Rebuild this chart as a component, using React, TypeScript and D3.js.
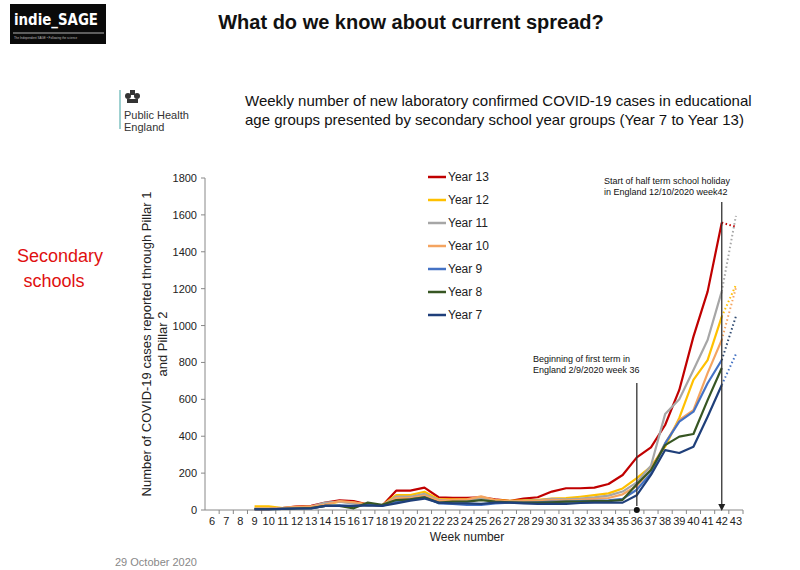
import React from "react";
import * as d3 from "d3";

const weeks = d3.range(6, 44).map(String);
const dataWeeks = d3.range(9, 43);
const yTicks = [0, 200, 400, 600, 800, 1000, 1200, 1400, 1600, 1800];

const seriesNames = ["Year 13", "Year 12", "Year 11", "Year 10", "Year 9", "Year 8", "Year 7"];
const seriesColors = ["#C00000", "#FFC000", "#A6A6A6", "#F4A460", "#4472C4", "#375623", "#1F3F7A"];

const year13 = [5, 5, 10, 20, 22, 40, 52, 48, 30, 22, 105, 105, 121, 69, 66, 66, 69, 58, 49, 62, 69, 100, 118, 118, 121, 141, 190, 285, 340, 461, 651, 940, 1184, 1558];
const year12 = [20, 20, 10, 15, 18, 30, 45, 40, 30, 25, 81, 81, 99, 58, 58, 58, 66, 54, 49, 52, 55, 62, 64, 72, 81, 90, 117, 173, 235, 343, 499, 705, 813, 1048];
const year11 = [8, 8, 10, 15, 18, 40, 45, 35, 25, 25, 72, 72, 87, 54, 54, 54, 60, 50, 45, 50, 52, 60, 58, 62, 68, 78, 100, 150, 240, 520, 600, 759, 922, 1185];
const year10 = [8, 8, 12, 18, 20, 30, 48, 42, 30, 25, 65, 65, 78, 50, 55, 58, 74, 54, 45, 48, 50, 55, 52, 55, 60, 65, 85, 130, 220, 361, 488, 542, 742, 922];
const year9 = [5, 5, 6, 8, 10, 22, 25, 20, 30, 22, 45, 58, 69, 36, 33, 27, 27, 36, 40, 40, 42, 45, 45, 48, 50, 52, 60, 110, 200, 361, 479, 533, 687, 813];
const year8 = [4, 4, 6, 8, 10, 22, 22, 9, 40, 28, 54, 58, 69, 40, 45, 45, 54, 45, 42, 40, 40, 42, 45, 45, 48, 48, 55, 140, 217, 352, 398, 412, 596, 770];
const year7 = [4, 4, 6, 8, 8, 22, 23, 22, 25, 22, 36, 51, 62, 40, 36, 36, 33, 40, 40, 36, 33, 33, 33, 38, 40, 40, 40, 80, 190, 325, 309, 343, 506, 678];
const seriesValues = [year13, year12, year11, year10, year9, year8, year7];

// projected (dotted) values for week 43, starting from week 42 value
const projSeries = ["Year 13", "Year 12", "Year 11", "Year 10", "Year 9", "Year 7"];
const projWeek43 = [1535, 1220, 1595, 1205, 1050, 845];
const projColors = ["#C00000", "#FFC000", "#A6A6A6", "#F4A460", "#2F4A70", "#4472C4"];

const annotations = [
  { week: "36", lines: ["Beginning of first term in", "England 2/9/2020  week 36"], top: 383, tx: 533, ty: 362, end: "dot" },
  { week: "42", lines: ["Start of half term school holiday", "in England 12/10/2020 week42"], top: 202, tx: 604, ty: 184, end: "arrow" },
];

export default function App() {
  const W = 800, H = 570;
  const x = d3.scaleBand<string>().domain(weeks).range([205, 743]).padding(0);
  const bw = x.bandwidth();
  const cx = (w: string | number) => (x(String(w)) as number) + bw / 2;
  const y = d3.scaleLinear().domain([0, 1800]).range([510, 178]);
  const line = d3.line<[number, number]>().x((d) => cx(d[0])).y((d) => y(d[1]));
  const font = "'Liberation Sans', Arial, sans-serif";

  return (
    <svg width={W} height={H} style={{ position: "absolute", left: 0, top: 0, background: "#fff" }} fontFamily={font}>
      <rect width={W} height={H} fill="#fff" />
      {/* indie_SAGE logo */}
      <rect x={10} y={4} width={96} height={40} fill="#0a0a0a" />
      <text x={14} y={25} fill="#fff" fontSize={16} fontWeight="bold" fontFamily="'DejaVu Sans', sans-serif" textLength={84} lengthAdjust="spacingAndGlyphs">indie_SAGE</text>
      <line x1={13} x2={104} y1={33} y2={33} stroke="#ddd" strokeWidth={0.8} />
      <text x={14} y={39} fill="#bbb" fontSize={3}>The Independent SAGE • Following the science</text>

      <text x={411} y={29} textAnchor="middle" fontSize={20} fontWeight="bold" fill="#111">What do we know about current spread?</text>

      {/* PHE logo */}
      <line x1={120} x2={120} y1={90} y2={129} stroke="#5fb3b3" strokeWidth={1.2} />
      <g fill="#333">
        <circle cx={128} cy={96} r={3} />
        <circle cx={137} cy={96} r={3} />
        <rect x={130} y={90} width={5} height={5} />
        <rect x={127} y={99} width={11} height={4} />
      </g>
      <text x={124} y={119} fontSize={11} fill="#333">Public Health</text>
      <text x={124} y={131} fontSize={11} fill="#333">England</text>

      <text x={245} y={106} fontSize={15} fill="#111">Weekly number of new laboratory confirmed COVID-19 cases in educational</text>
      <text x={245} y={125} fontSize={15} fill="#111">age groups presented by secondary school year groups (Year 7 to Year 13)</text>

      <text x={60} y={262} textAnchor="middle" fontSize={18} fill="#e01010">Secondary</text>
      <text x={54} y={287} textAnchor="middle" fontSize={18} fill="#e01010">schools</text>

      {/* Y axis label */}
      <g transform="translate(151,344) rotate(-90)">
        <text x={0} y={0} textAnchor="middle" fontSize={13} fill="#222">Number of COVID-19 cases reported through Pillar 1</text>
        <text x={0} y={16} textAnchor="middle" fontSize={13} fill="#222">and Pillar 2</text>
      </g>

      {/* Axes */}
      <line x1={205} x2={205} y1={y(1800)} y2={y(0)} stroke="#888" strokeWidth={1} />
      {yTicks.map((t) => (
        <g key={t}>
          <line x1={201} x2={205} y1={y(t)} y2={y(t)} stroke="#888" />
          <text x={197} y={y(t) + 4} textAnchor="end" fontSize={11} fill="#222">{t}</text>
        </g>
      ))}
      <line x1={205} x2={743} y1={y(0)} y2={y(0)} stroke="#888" strokeWidth={1} />
      {weeks.map((w) => (
        <g key={w}>
          <line x1={(x(w) as number) + bw} x2={(x(w) as number) + bw} y1={y(0)} y2={y(0) + 4} stroke="#888" />
          <text x={cx(w)} y={525} textAnchor="middle" fontSize={11} fill="#222">{w}</text>
        </g>
      ))}
      <text x={467} y={541} textAnchor="middle" fontSize={12} fill="#222">Week number</text>

      {/* Series lines */}
      {seriesValues.map((vals, i) => (
        <path key={seriesNames[i]} d={line(vals.map((v, j) => [dataWeeks[j], v]) as [number, number][]) || ""} fill="none" stroke={seriesColors[i]} strokeWidth={2.2} strokeLinejoin="round" />
      ))}
      {projSeries.map((name, i) => {
        const vals = seriesValues[seriesNames.indexOf(name)];
        return (
          <path key={"p" + name} d={line([[42, vals[vals.length - 1]], [43, projWeek43[i]]]) || ""} fill="none" stroke={projColors[i]} strokeWidth={2} strokeDasharray="1.5,2.5" />
        );
      })}

      {/* Annotations */}
      {annotations.map((a) => (
        <g key={a.week}>
          <line x1={cx(a.week)} x2={cx(a.week)} y1={a.top} y2={y(0) - 4} stroke="#333" strokeWidth={1.3} />
          {a.end === "arrow" ? (
            <path d={`M${cx(a.week) - 3.5},${y(0) - 6} L${cx(a.week) + 3.5},${y(0) - 6} L${cx(a.week)},${y(0) + 1} Z`} fill="#222" />
          ) : (
            <circle cx={cx(a.week)} cy={y(0)} r={3} fill="#111" />
          )}
          {a.lines.map((l, k) => (
            <text key={k} x={a.tx} y={a.ty + k * 11} fontSize={9} fill="#111">{l}</text>
          ))}
        </g>
      ))}

      {/* Legend */}
      {seriesNames.map((n, i) => (
        <g key={"lg" + n}>
          <line x1={428} x2={446} y1={177 + i * 23} y2={177 + i * 23} stroke={seriesColors[i]} strokeWidth={2.5} />
          <text x={448} y={181 + i * 23} fontSize={12} fill="#222">{n}</text>
        </g>
      ))}

      <text x={115} y={566} fontSize={11} fill="#888">29 October 2020</text>
    </svg>
  );
}
